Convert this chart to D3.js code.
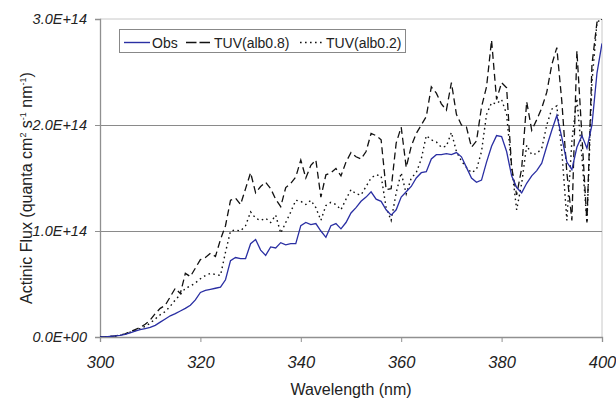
<!DOCTYPE html>
<html>
<head>
<meta charset="utf-8">
<script src="https://cdn.jsdelivr.net/npm/d3@7"></script>
<style>
  body { margin: 0; background: #fff; }
  svg { display: block; font-family: "Liberation Sans", Arial, sans-serif; }
</style>
</head>
<body>
<svg id="chart" width="616" height="398"></svg>
<script>
// wavelength grid, 1 nm steps
const wavelengths = d3.range(300, 401);

// actinic flux in units of 1E+14 quanta cm-2 s-1 nm-1
const obs = [
  0.0, 0.0, 0.005, 0.01, 0.015, 0.025, 0.04, 0.055, 0.07, 0.08,
  0.09, 0.11, 0.14, 0.17, 0.20, 0.22, 0.245, 0.27, 0.30, 0.35,
  0.42, 0.44, 0.45, 0.46, 0.47, 0.54, 0.72, 0.75, 0.74, 0.74,
  0.88, 0.92, 0.82, 0.77, 0.85, 0.84, 0.89, 0.87, 0.88, 0.88,
  1.05, 1.08, 1.06, 1.07, 1.0, 0.94, 1.05, 1.07, 1.02, 1.08,
  1.17, 1.22, 1.28, 1.32, 1.37, 1.30, 1.28, 1.20, 1.15, 1.20,
  1.32, 1.37, 1.42, 1.50, 1.55, 1.56, 1.68, 1.72, 1.72, 1.73,
  1.72, 1.74, 1.70, 1.60, 1.50, 1.46, 1.48, 1.65, 1.80, 1.90,
  1.89, 1.75, 1.52, 1.41, 1.36, 1.45, 1.52, 1.57, 1.64, 1.80,
  1.95, 2.09, 1.88, 1.65, 1.58, 1.79, 1.90, 1.78, 2.00, 2.49,
  2.77
];

const tuvAlb08 = [
  0.0, 0.0, 0.005, 0.01, 0.02, 0.03, 0.05, 0.07, 0.09, 0.12,
  0.16, 0.22, 0.27, 0.30, 0.38, 0.46, 0.41, 0.60, 0.57, 0.65,
  0.73, 0.75, 0.79, 0.76, 0.92, 1.05, 1.29, 1.31, 1.25, 1.40,
  1.55, 1.36, 1.42, 1.46, 1.40, 1.30, 1.23, 1.41, 1.45, 1.51,
  1.67, 1.50, 1.62, 1.67, 1.32, 1.53, 1.55, 1.59, 1.52, 1.65,
  1.74, 1.70, 1.68, 1.75, 1.92, 1.90, 1.86, 1.39, 1.40, 1.83,
  1.98, 1.60, 1.80, 1.92, 2.00, 2.08, 2.36, 2.30, 2.20, 2.14,
  2.40, 2.10, 2.00, 1.98, 1.79, 1.85, 2.17, 2.36, 2.80, 2.24,
  2.40, 2.35, 1.60, 1.34, 1.59, 2.22, 1.95, 2.05, 2.16, 2.31,
  2.57, 2.73, 2.22, 1.55, 1.10, 2.70, 1.90, 1.08, 2.57, 2.97,
  3.0
];

const tuvAlb02 = [
  0.0, 0.0, 0.005, 0.01, 0.015, 0.025, 0.045, 0.06, 0.08, 0.10,
  0.13, 0.17, 0.21, 0.24, 0.29, 0.35, 0.40, 0.46, 0.48, 0.51,
  0.55, 0.58, 0.60, 0.59, 0.58, 0.80, 1.00, 1.01, 1.00, 1.05,
  1.18, 1.12, 1.10, 1.12, 1.08, 1.15, 0.98, 1.08, 1.18, 1.29,
  1.28, 1.25, 1.29, 1.22, 1.10, 1.24, 1.27, 1.25, 1.20, 1.30,
  1.39, 1.35, 1.34, 1.42, 1.50, 1.53, 1.52, 1.22, 1.10, 1.36,
  1.55, 1.35, 1.50, 1.55, 1.68, 1.90, 1.86, 1.84, 1.79, 1.80,
  1.93, 1.75, 1.66, 1.60, 1.55, 1.58, 1.75, 2.10, 2.21, 2.20,
  2.24, 2.10, 1.60, 1.20, 1.45, 1.81, 1.72, 1.73, 1.78, 2.00,
  2.15, 2.18, 1.75, 1.10, 1.85, 2.25, 1.70, 1.08, 2.40, 2.97,
  3.0
];

const xTicks = [300, 320, 340, 360, 380, 400];
const yTicks = [0, 1, 2, 3];
const yTickLabels = ['0.0E+00', '1.0E+14', '2.0E+14', '3.0E+14'];

const seriesNames = ['Obs', 'TUV(alb0.8)', 'TUV(alb0.2)'];

const margin = { top: 19, left: 100, right: 14, bottom: 61 };
const width = 616, height = 398;

const svg = d3.select('#chart');

const x = d3.scaleLinear()
  .domain([300, 400])
  .range([margin.left, width - margin.right]);

const y = d3.scaleLinear()
  .domain([0, 3])
  .range([height - margin.bottom, margin.top]);

const plotW = x(400) - x(300);
const plotH = y(0) - y(3);

svg.append('clipPath')
  .attr('id', 'plot-clip')
  .append('rect')
  .attr('x', x(300))
  .attr('y', y(3))
  .attr('width', plotW)
  .attr('height', plotH);

// top and right frame of the plot area
svg.append('path')
  .attr('d', `M${x(300)},${y(3)}H${x(400)}V${y(0)}`)
  .attr('fill', 'none')
  .attr('stroke', '#c8c8c8')
  .attr('stroke-width', 1);

// horizontal grid lines
svg.append('g')
  .selectAll('line')
  .data([1, 2])
  .enter()
  .append('line')
  .attr('x1', x(300))
  .attr('x2', x(400))
  .attr('y1', d => Math.round(y(d)) + 0.5)
  .attr('y2', d => Math.round(y(d)) + 0.5)
  .attr('stroke', '#8a8a8a')
  .attr('stroke-width', 1.2);

// axes
const xAxis = svg.append('g')
  .attr('transform', `translate(0, ${y(0)})`)
  .call(d3.axisBottom(x).tickValues(xTicks).tickSize(5).tickPadding(14));

const yAxis = svg.append('g')
  .attr('transform', `translate(${x(300)}, 0)`)
  .call(d3.axisLeft(y).tickValues(yTicks).tickSize(5).tickPadding(8)
    .tickFormat((d, i) => yTickLabels[i]));

[xAxis, yAxis].forEach(g => {
  g.select('.domain').attr('stroke', '#909090').attr('stroke-width', 1.3);
  g.selectAll('.tick line').attr('stroke', '#909090');
  g.selectAll('.tick text')
    .attr('fill', '#222')
    .style('font-style', 'italic')
    .style('font-family', '"Liberation Sans", Arial, sans-serif');
});
xAxis.selectAll('.tick text').style('font-size', '16.5px');
yAxis.selectAll('.tick text').style('font-size', '14.5px');

// lines
const line = d3.line()
  .x((d, i) => x(wavelengths[i]))
  .y(d => y(d));

const lines = svg.append('g').attr('clip-path', 'url(#plot-clip)');

lines.append('path')
  .datum(tuvAlb02)
  .attr('d', line)
  .attr('fill', 'none')
  .attr('stroke', '#111')
  .attr('stroke-width', 1.4)
  .attr('stroke-dasharray', '1.6,3.4');

lines.append('path')
  .datum(tuvAlb08)
  .attr('d', line)
  .attr('fill', 'none')
  .attr('stroke', '#111')
  .attr('stroke-width', 1.3)
  .attr('stroke-dasharray', '7,4');

lines.append('path')
  .datum(obs)
  .attr('d', line)
  .attr('fill', 'none')
  .attr('stroke', '#2a2fa3')
  .attr('stroke-width', 1.3);

// axis titles
svg.append('text')
  .attr('x', (x(300) + x(400)) / 2)
  .attr('y', 395)
  .attr('text-anchor', 'middle')
  .style('font-size', '16px')
  .attr('fill', '#222')
  .text('Wavelength (nm)');

const yTitle = svg.append('text')
  .attr('transform', 'translate(32, 188) rotate(-90)')
  .attr('text-anchor', 'middle')
  .style('font-size', '16px')
  .attr('fill', '#222');
yTitle.append('tspan').text('Actinic Flux (quanta cm');
yTitle.append('tspan').attr('dy', -6).style('font-size', '9px').text('2');
yTitle.append('tspan').attr('dy', 6).text(' s');
yTitle.append('tspan').attr('dy', -6).style('font-size', '9px').text('-1');
yTitle.append('tspan').attr('dy', 6).text(' nm');
yTitle.append('tspan').attr('dy', -6).style('font-size', '9px').text('-1');
yTitle.append('tspan').attr('dy', 6).text(')');

// legend
const legend = svg.append('g');
legend.append('rect')
  .attr('x', 119.5)
  .attr('y', 29.5)
  .attr('width', 286)
  .attr('height', 23)
  .attr('fill', '#fff')
  .attr('stroke', '#888');

const legendItems = [
  { name: seriesNames[0], x0: 124, x1: 150, tx: 152, stroke: '#2a2fa3', dash: null },
  { name: seriesNames[1], x0: 186, x1: 210, tx: 214, stroke: '#111', dash: '10.5,3' },
  { name: seriesNames[2], x0: 300, x1: 323, tx: 326, stroke: '#111', dash: '1.6,3.4' }
];

legendItems.forEach(it => {
  legend.append('line')
    .attr('x1', it.x0).attr('x2', it.x1)
    .attr('y1', 42.5).attr('y2', 42.5)
    .attr('stroke', it.stroke)
    .attr('stroke-width', 1.4)
    .attr('stroke-dasharray', it.dash);
  legend.append('text')
    .attr('x', it.tx)
    .attr('y', 47.5)
    .style('font-size', '14px')
    .attr('fill', '#222')
    .text(it.name);
});
</script>
</body>
</html>
